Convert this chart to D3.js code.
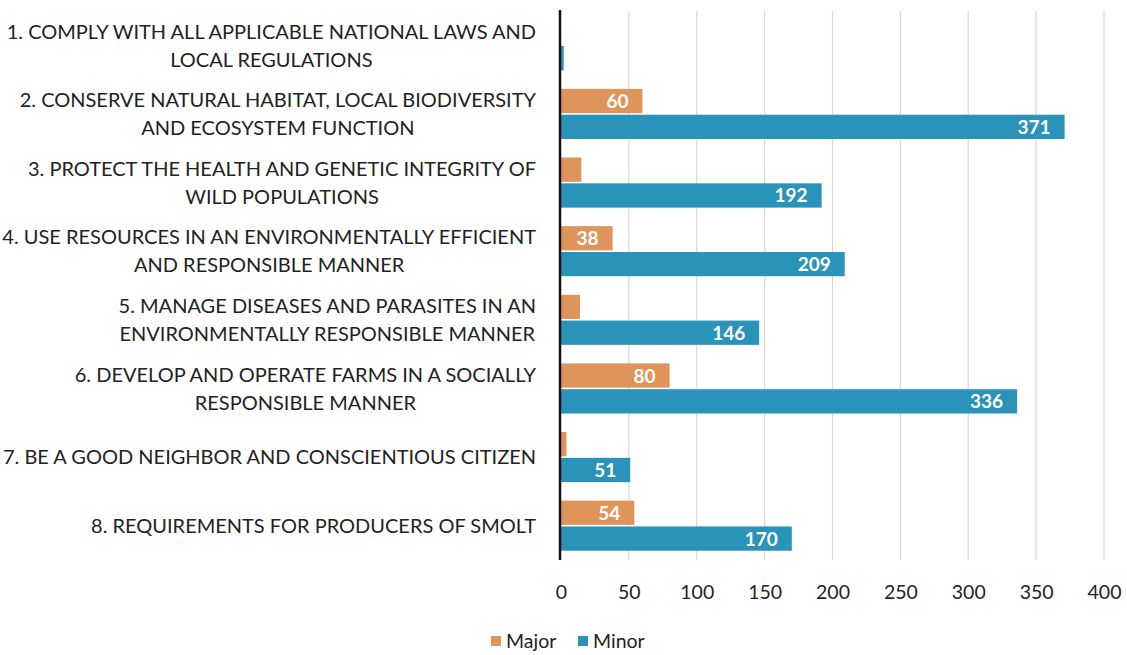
<!DOCTYPE html>
<html><head><meta charset="utf-8">
<script src="https://cdn.jsdelivr.net/npm/d3@7"></script>
<style>body{margin:0;background:#fff;} svg{display:block;font-family:Lato, "Open Sans", sans-serif;}</style>
</head><body><svg id="c" width="1127" height="655"></svg>
<script>
const categories = [
  ["1. COMPLY WITH ALL APPLICABLE NATIONAL LAWS AND","LOCAL REGULATIONS"],
  ["2. CONSERVE NATURAL HABITAT, LOCAL BIODIVERSITY","AND ECOSYSTEM FUNCTION"],
  ["3. PROTECT THE HEALTH AND GENETIC INTEGRITY OF","WILD POPULATIONS"],
  ["4. USE RESOURCES IN AN ENVIRONMENTALLY EFFICIENT","AND RESPONSIBLE MANNER"],
  ["5. MANAGE DISEASES AND PARASITES IN AN","ENVIRONMENTALLY RESPONSIBLE MANNER"],
  ["6. DEVELOP AND OPERATE FARMS IN A SOCIALLY","RESPONSIBLE MANNER"],
  ["7. BE A GOOD NEIGHBOR AND CONSCIENTIOUS CITIZEN"],
  ["8. REQUIREMENTS FOR PRODUCERS OF SMOLT"]
];
const majorValues = [0, 60, 15, 38, 14, 80, 4, 54];
const minorValues = [2, 371, 192, 209, 146, 336, 51, 170];
const seriesNames = ["Major", "Minor"];
const seriesColors = ["#DF955A", "#2A93B9"];
const xTicks = [0, 50, 100, 150, 200, 250, 300, 350, 400];

(function () {
const svg = d3.select("#c");
const mLeft = 561, mRight = 1104, mTop = 11, mBottom = 560;
const x = d3.scaleLinear().domain([0, 400]).range([mLeft, mRight]);
const y = d3.scaleBand().domain(d3.range(categories.length)).range([mTop, mBottom]).paddingInner(0.27).paddingOuter(0.135);
const ys = d3.scaleBand().domain(seriesNames).range([0, y.bandwidth()]).paddingInner(0.06);

// gridlines
svg.append("g").selectAll("line").data(xTicks.filter(d => d > 0)).join("line")
  .attr("x1", d => x(d)).attr("x2", d => x(d)).attr("y1", mTop).attr("y2", mBottom)
  .attr("stroke", "#d9d9d9").attr("stroke-width", 1.2);

// tick labels
const xAxis = d3.axisBottom(x).tickValues(xTicks).tickSize(0).tickPadding(0);
const gx = svg.append("g").attr("transform", `translate(0,${mBottom + 39})`).call(xAxis);
gx.select(".domain").remove();
gx.selectAll("text").attr("font-size", 19.5).attr("fill", "#222").attr("font-family", "Lato, sans-serif").attr("dy", "0");

// bars
const data = categories.map((c, i) => ({i, vals: [majorValues[i], minorValues[i]]}));
const groups = svg.append("g").selectAll("g").data(data).join("g")
  .attr("transform", d => `translate(0,${y(d.i)})`);
groups.selectAll("rect").data(d => d.vals.map((v, k) => ({v, k}))).join("rect")
  .attr("x", x(0)).attr("y", d => ys(seriesNames[d.k])).attr("width", d => x(d.v) - x(0))
  .attr("height", ys.bandwidth()).attr("fill", d => seriesColors[d.k]);
groups.selectAll("text.val").data(d => d.vals.map((v, k) => ({v, k})).filter(e => e.v >= 30)).join("text")
  .attr("class", "val")
  .attr("x", d => x(d.v) - 14).attr("y", d => ys(seriesNames[d.k]) + ys.bandwidth() / 2)
  .attr("dy", "0.37em").attr("text-anchor", "end").attr("fill", "#fff")
  .attr("font-weight", "bold").attr("font-size", 19).text(d => d.v);

// axis line
svg.append("line").attr("x1", x(0) - 1).attr("x2", x(0) - 1).attr("y1", mTop - 1).attr("y2", mBottom)
  .attr("stroke", "#111").attr("stroke-width", 2.5);

// category labels
const labelRight = 536;
categories.forEach((lines, i) => {
  const cy = y(i) + y.bandwidth() / 2;
  const g = svg.append("g");
  const texts = lines.map((t, k) => g.append("text").text(t).attr("font-size", 20).attr("fill", "#222")
    .attr("text-anchor", "middle")
    .attr("y", cy + (k - (lines.length - 1) / 2) * 28).attr("dy", "0.36em"));
  const maxW = d3.max(texts, t => t.node().getComputedTextLength());
  texts.forEach(t => t.attr("x", labelRight - maxW / 2));
});

// legend
const legend = svg.append("g").attr("transform", "translate(491,641)");
const items = [{n: "Major", c: seriesColors[0], x: 0}, {n: "Minor", c: seriesColors[1], x: 87}];
items.forEach(it => {
  legend.append("rect").attr("x", it.x).attr("y", -5).attr("width", 10).attr("height", 10).attr("fill", it.c);
  legend.append("text").attr("x", it.x + 15).attr("y", 0).attr("dy", "0.36em").attr("font-size", 19.5)
    .attr("fill", "#222").text(it.n);
});
})();
</script></body></html>
